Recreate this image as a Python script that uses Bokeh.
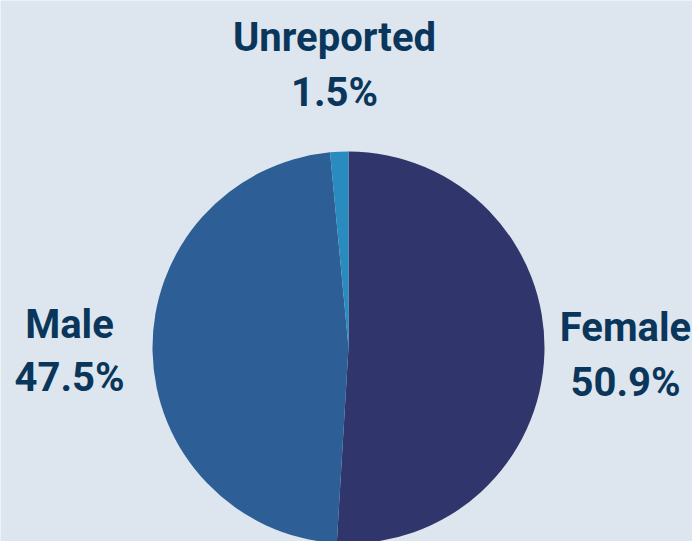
import math
from bokeh.plotting import figure
from bokeh.models import ColumnDataSource
from bokeh.core.properties import value
from bokeh.embed import file_html
from bokeh.resources import INLINE

categories = ["Female", "Male", "Unreported"]
shares = [50.9, 47.5, 1.5]
colors = ["#30356b", "#2d5e96", "#2a8cbe"]

BG = "#dde6ee"
TXT = "#0b365c"
W, H = 692, 541

p = figure(width=W, height=H, x_range=(0, W), y_range=(0, H),
           output_backend="svg", toolbar_location=None, min_border=0,
           background_fill_color=BG, border_fill_color=BG, outline_line_color=None)
p.axis.visible = False
p.grid.visible = False

# pie: start at 12 o'clock, clockwise
total = sum(shares)
starts, ends = [], []
acc = 0.0
for s in shares:
    a0 = math.pi / 2 - 2 * math.pi * acc / total
    acc += s
    a1 = math.pi / 2 - 2 * math.pi * acc / total
    starts.append(a0)
    ends.append(a1)

cx, cy, r = 348, H - 347, 196
src = ColumnDataSource(dict(cat=categories, start=starts, end=ends, color=colors))
p.wedge(x=cx, y=cy, radius=r, start_angle="start", end_angle="end",
        direction="clock", fill_color="color", line_color=None, source=src)

def page_y(y):
    return H - y

labels = [
    (categories[2], f"{shares[2]}%", 334, 37, 92, "40px"),
    (categories[1], f"{shares[1]}%", 69, 324, 377, "40px"),
    (categories[0], f"{shares[0]}%", 625, 327, 382, "40px"),
]
for name, pct, x, y1, y2, fs in labels:
    p.text(x=[x, x], y=[page_y(y1), page_y(y2)], text=[name, pct],
           text_font=value("Roboto"), text_font_style="bold", text_font_size=fs,
           text_color=TXT, text_align="center", text_baseline="alphabetic")

open("out.html", "w").write(file_html(p, INLINE))
